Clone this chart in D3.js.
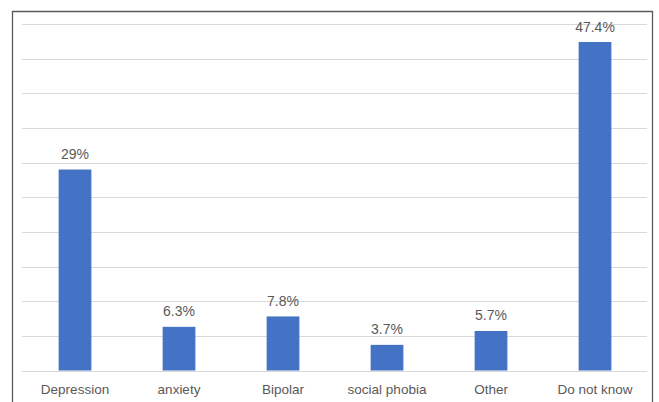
<!DOCTYPE html>
<html>
<head>
<meta charset="utf-8">
<script src="https://cdn.jsdelivr.net/npm/d3@7"></script>
<style>
  body { margin: 0; background: #fff; }
  svg { display: block; font-family: "Liberation Sans", Arial, sans-serif; }
</style>
</head>
<body>
<div id="chart"></div>
<script>
// chart values
const categories = ["Depression", "anxiety", "Bipolar", "social phobia", "Other", "Do not know"];
const values = [29, 6.3, 7.8, 3.7, 5.7, 47.4];
const valueLabels = ["29%", "6.3%", "7.8%", "3.7%", "5.7%", "47.4%"];
const gridTicks = [0, 5, 10, 15, 20, 25, 30, 35, 40, 45, 50];

const width = 659;
const height = 402;
const plot = {left: 23, right: 647, top: 24, bottom: 370.5};

const svg = d3.select("#chart")
  .append("svg")
  .attr("width", width)
  .attr("height", height);

// outer frame (bottom edge falls outside the picture)
svg.append("path")
  .attr("d", `M12.5,${height + 2}V11.5H652.5V${height + 2}`)
  .attr("fill", "none")
  .attr("stroke", "#5a5a5a")
  .attr("stroke-width", 1.3);

const x = d3.scaleBand()
  .domain(d3.range(categories.length))
  .range([plot.left, plot.right])
  .paddingInner(0.685)
  .paddingOuter(0.3425);

const y = d3.scaleLinear()
  .domain([0, 50])
  .range([plot.bottom, plot.top]);

// horizontal gridlines
svg.append("g")
  .selectAll("line")
  .data(gridTicks)
  .enter()
  .append("line")
    .attr("x1", plot.left - 1)
    .attr("x2", plot.right)
    .attr("y1", d => Math.round(y(d)) + 0.5)
    .attr("y2", d => Math.round(y(d)) + 0.5)
    .attr("stroke", "#d9d9d9")
    .attr("stroke-width", 1);

// bars
svg.selectAll(".bar")
  .data(values)
  .enter()
  .append("rect")
    .attr("class", "bar")
    .attr("x", (d, i) => x(i))
    .attr("y", d => y(d))
    .attr("width", x.bandwidth())
    .attr("height", d => y(0) - y(d))
    .attr("fill", "#4472c4");

// value labels
svg.selectAll(".val")
  .data(values)
  .enter()
  .append("text")
    .attr("class", "val")
    .attr("x", (d, i) => x(i) + x.bandwidth() / 2)
    .attr("y", d => y(d) - 10.5)
    .attr("text-anchor", "middle")
    .attr("font-size", "14px")
    .attr("fill", "#595959")
    .text((d, i) => valueLabels[i]);

// category axis labels
svg.append("g")
  .attr("transform", `translate(0,${plot.bottom})`)
  .call(d3.axisBottom(x).tickSize(0).tickPadding(0).tickFormat(i => categories[i]))
  .call(g => g.select(".domain").remove())
  .selectAll("text")
    .attr("dy", 0)
    .attr("y", 23.5)
    .attr("font-size", "13.5px")
    .attr("font-family", "\"Liberation Sans\", Arial, sans-serif")
    .attr("fill", "#595959");
</script>
</body>
</html>
